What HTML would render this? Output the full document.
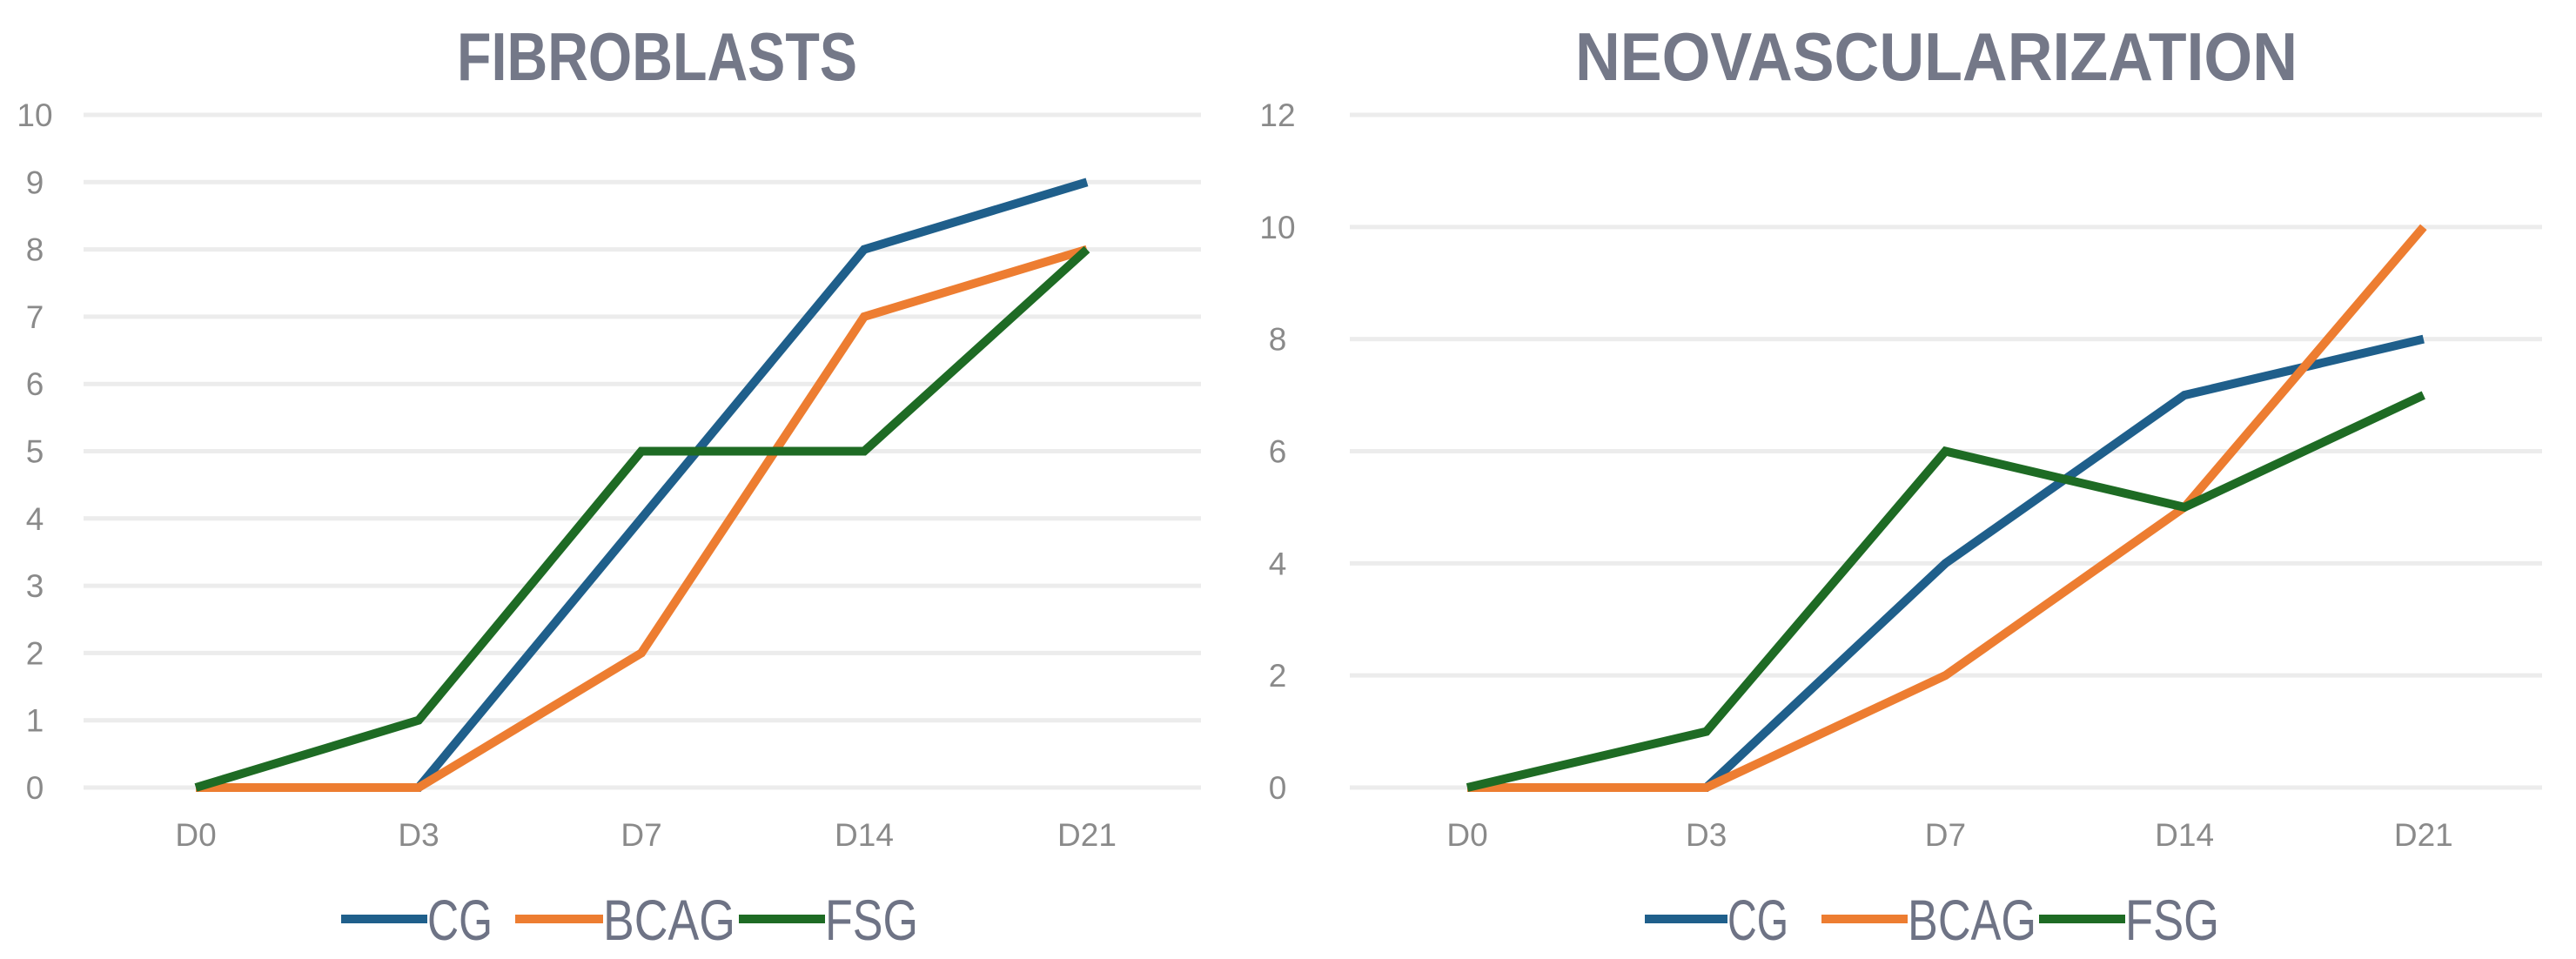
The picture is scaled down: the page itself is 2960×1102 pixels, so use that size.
<!DOCTYPE html>
<html><head><meta charset="utf-8"><style>
html,body{margin:0;padding:0;background:#fff;overflow:hidden;}
svg{display:block;font-family:"Liberation Sans",sans-serif;}
</style></head><body>
<svg id="svg" width="2960" height="1102" viewBox="0 0 2960 1102" xmlns="http://www.w3.org/2000/svg"></svg>
<script>
const categories = ["D0","D3","D7","D14","D21"];
const seriesNames = ["CG","BCAG","FSG"];
const fibroCG = [0,0,4,8,9];
const fibroBCAG = [0,0,2,7,8];
const fibroFSG = [0,1,5,5,8];
const fibroTicks = [0,1,2,3,4,5,6,7,8,9,10];
const neoCG = [0,0,4,7,8];
const neoBCAG = [0,0,2,5,10];
const neoFSG = [0,1,6,5,7];
const neoTicks = [0,2,4,6,8,10,12];

const colors = {CG:"#1f5f8b", BCAG:"#ed7d31", FSG:"#1e6b24"};
const NS = "http://www.w3.org/2000/svg";
const svg = document.getElementById('svg');
function mk(tag, attrs, parent){const e=document.createElementNS(NS,tag);for(const k in attrs)e.setAttribute(k,attrs[k]);(parent||svg).appendChild(e);return e;}

function chart(cfg){
  const g = mk('g',{});
  
  
  const maxV = cfg.ticks[cfg.ticks.length-1];
  const y = v => cfg.y0 - (v/maxV)*(cfg.y0-cfg.y1);
  const x = i => cfg.xs + i*cfg.step;
  const t = mk('text',{x:cfg.titleX,y:92,'text-anchor':'middle','font-size':78,'font-weight':'bold',fill:'#747888',textLength:cfg.titleW,lengthAdjust:'spacingAndGlyphs'},g);
  t.textContent = cfg.title;
  
  
  cfg.ticks.forEach(v=>{
    const l = mk('line',{x1:cfg.gx0,x2:cfg.gx1,y1:y(v),y2:y(v),stroke:'#ececec','stroke-width':5},g);
    
    
    const tx = mk('text',{x:cfg.labelX,y:y(v)+13,'text-anchor':'middle','font-size':37,fill:'#8a8a8a'},g);
    tx.textContent = v;
    
    
  });
  categories.forEach((c,i)=>{
    const tx = mk('text',{x:x(i),y:972,'text-anchor':'middle','font-size':37,fill:'#8a8a8a'},g);
    tx.textContent = c;
    
    
  });
  cfg.series.forEach((s,si)=>{
    const pts = s.map((v,i)=>x(i)+','+y(v)).join(' ');
    const p = mk('polyline',{points:pts,fill:'none',stroke:colors[seriesNames[si]],'stroke-width':10,'stroke-linejoin':'miter'},g);
    
    
  });
  cfg.legend.forEach((L,i)=>{
    const lg = mk('g',{},g);
    
    
    mk('line',{x1:L[0],x2:L[1],y1:1056,y2:1056,stroke:colors[seriesNames[i]],'stroke-width':10},lg);
    const tx = mk('text',{x:L[1],y:1080,'font-size':66,fill:'#6e7385',textLength:L[2]-L[1],lengthAdjust:'spacingAndGlyphs'},lg);
    tx.textContent = seriesNames[i];
  });
}
chart({name:'fibroblasts-chart',title:'FIBROBLASTS',titleX:755,titleW:460,ticks:fibroTicks,y0:905,y1:132,gx0:96,gx1:1380,xs:225,step:256,labelX:40,
  series:[fibroCG,fibroBCAG,fibroFSG],legend:[[392,491,566],[592,693,845],[849,948,1055]]});
chart({name:'neovascularization-chart',title:'NEOVASCULARIZATION',titleX:2225,titleW:830,ticks:neoTicks,y0:905,y1:132,gx0:1551,gx1:2921,xs:1686,step:274.7,labelX:1468,
  series:[neoCG,neoBCAG,neoFSG],legend:[[1890,1985,2055],[2093,2192,2340],[2343,2442,2550]]});
</script>
</body></html>
